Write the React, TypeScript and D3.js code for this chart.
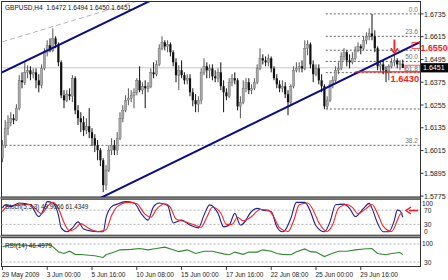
import React from 'react';
import * as d3 from 'd3';

const FONT = '"Liberation Sans", Arial, sans-serif';

const symbol = 'GBPUSD,H4';

const open = [1.5975,1.6043,1.6133,1.6164,1.6185,1.6175,1.6238,1.6385,1.6375,1.6427,1.6438,1.6417,1.6427,1.6385,1.6359,1.6448,1.6533,1.6569,1.6543,1.6606,1.6575,1.6480,1.6306,1.6280,1.6312,1.6301,1.6396,1.6227,1.6185,1.6164,1.6122,1.6143,1.6112,1.6080,1.6043,1.6017,1.5964,1.5833,1.5912,1.6017,1.6043,1.6017,1.6080,1.6185,1.6227,1.6280,1.6291,1.6306,1.6322,1.6385,1.6333,1.6354,1.6343,1.6354,1.6427,1.6417,1.6469,1.6554,1.6585,1.6564,1.6575,1.6533,1.6480,1.6412,1.6438,1.6412,1.6385,1.6396,1.6322,1.6280,1.6259,1.6280,1.6427,1.6459,1.6438,1.6448,1.6406,1.6396,1.6427,1.6354,1.6322,1.6301,1.6375,1.6396,1.6385,1.6248,1.6270,1.6343,1.6375,1.6333,1.6343,1.6375,1.6448,1.6501,1.6490,1.6480,1.6501,1.6448,1.6396,1.6364,1.6343,1.6354,1.6312,1.6270,1.6354,1.6438,1.6448,1.6459,1.6448,1.6554,1.6575,1.6469,1.6417,1.6448,1.6385,1.6354,1.6248,1.6280,1.6364,1.6385,1.6438,1.6448,1.6511,1.6533,1.6490,1.6480,1.6501,1.6543,1.6564,1.6554,1.6596,1.6617,1.6632,1.6617,1.6554,1.6459,1.6469,1.6438,1.6427,1.6459,1.6480,1.6490,1.6469,1.6472];
const close = [1.6043,1.6133,1.6164,1.6185,1.6175,1.6238,1.6385,1.6375,1.6427,1.6438,1.6417,1.6427,1.6385,1.6359,1.6448,1.6533,1.6569,1.6543,1.6606,1.6575,1.6480,1.6306,1.6280,1.6312,1.6301,1.6396,1.6227,1.6185,1.6164,1.6122,1.6143,1.6112,1.6080,1.6043,1.6017,1.5964,1.5833,1.5912,1.6017,1.6043,1.6017,1.6080,1.6185,1.6227,1.6280,1.6291,1.6306,1.6322,1.6385,1.6333,1.6354,1.6343,1.6354,1.6427,1.6417,1.6469,1.6554,1.6585,1.6564,1.6575,1.6533,1.6480,1.6412,1.6438,1.6412,1.6385,1.6396,1.6322,1.6280,1.6259,1.6280,1.6427,1.6459,1.6438,1.6448,1.6406,1.6396,1.6427,1.6354,1.6322,1.6301,1.6375,1.6396,1.6385,1.6248,1.6270,1.6343,1.6375,1.6333,1.6343,1.6375,1.6448,1.6501,1.6490,1.6480,1.6501,1.6448,1.6396,1.6364,1.6343,1.6354,1.6312,1.6270,1.6354,1.6438,1.6448,1.6459,1.6448,1.6554,1.6575,1.6469,1.6417,1.6448,1.6385,1.6354,1.6248,1.6280,1.6364,1.6385,1.6438,1.6448,1.6511,1.6533,1.6490,1.6480,1.6501,1.6543,1.6564,1.6554,1.6596,1.6617,1.6632,1.6617,1.6554,1.6459,1.6469,1.6438,1.6427,1.6459,1.6480,1.6490,1.6469,1.6472,1.6451];
const high = [1.6070,1.6175,1.6201,1.6217,1.6206,1.6259,1.6412,1.6427,1.6480,1.6464,1.6459,1.6448,1.6448,1.6417,1.6469,1.6554,1.6596,1.6606,1.6659,1.6617,1.6585,1.6490,1.6333,1.6333,1.6343,1.6412,1.6406,1.6254,1.6217,1.6196,1.6185,1.6238,1.6133,1.6101,1.6070,1.6028,1.5975,1.5938,1.6043,1.6080,1.6070,1.6112,1.6217,1.6254,1.6306,1.6343,1.6333,1.6343,1.6396,1.6459,1.6375,1.6385,1.6375,1.6448,1.6480,1.6490,1.6575,1.6617,1.6596,1.6596,1.6585,1.6543,1.6501,1.6464,1.6490,1.6427,1.6417,1.6417,1.6343,1.6312,1.6301,1.6448,1.6501,1.6480,1.6469,1.6469,1.6438,1.6448,1.6480,1.6385,1.6343,1.6396,1.6417,1.6427,1.6396,1.6301,1.6385,1.6396,1.6396,1.6364,1.6396,1.6469,1.6554,1.6522,1.6511,1.6522,1.6511,1.6459,1.6417,1.6385,1.6385,1.6375,1.6333,1.6364,1.6459,1.6480,1.6480,1.6490,1.6596,1.6596,1.6585,1.6490,1.6469,1.6469,1.6417,1.6364,1.6301,1.6385,1.6406,1.6459,1.6480,1.6533,1.6554,1.6543,1.6522,1.6533,1.6564,1.6585,1.6575,1.6617,1.6638,1.6659,1.6735,1.6648,1.6564,1.6490,1.6490,1.6459,1.6469,1.6501,1.6517,1.6501,1.6490,1.6494];
const low = [1.5954,1.6028,1.6096,1.6143,1.6154,1.6170,1.6227,1.6343,1.6359,1.6396,1.6385,1.6396,1.6343,1.6322,1.6343,1.6438,1.6511,1.6533,1.6533,1.6554,1.6459,1.6291,1.6238,1.6270,1.6280,1.6270,1.6206,1.6149,1.6112,1.6091,1.6101,1.6080,1.6038,1.6007,1.5964,1.5933,1.5796,1.5807,1.5901,1.5991,1.5991,1.5991,1.6070,1.6164,1.6217,1.6254,1.6270,1.6238,1.6306,1.6322,1.6312,1.6238,1.6322,1.6343,1.6396,1.6406,1.6459,1.6543,1.6543,1.6533,1.6511,1.6459,1.6375,1.6333,1.6396,1.6364,1.6364,1.6301,1.6248,1.6217,1.6217,1.6259,1.6412,1.6396,1.6396,1.6385,1.6375,1.6375,1.6333,1.6217,1.6280,1.6291,1.6354,1.6364,1.6227,1.6185,1.6259,1.6322,1.6312,1.6312,1.6333,1.6364,1.6438,1.6469,1.6459,1.6459,1.6427,1.6385,1.6343,1.6322,1.6322,1.6291,1.6201,1.6248,1.6343,1.6427,1.6427,1.6427,1.6438,1.6517,1.6448,1.6375,1.6406,1.6364,1.6322,1.6233,1.6233,1.6270,1.6343,1.6375,1.6417,1.6438,1.6490,1.6459,1.6448,1.6469,1.6490,1.6533,1.6522,1.6543,1.6575,1.6596,1.6596,1.6533,1.6438,1.6427,1.6417,1.6375,1.6385,1.6448,1.6459,1.6448,1.6438,1.6450];

const priceTicks = [1.6735, 1.6615, 1.6495, 1.6375, 1.6255, 1.6135, 1.6015, 1.5895, 1.5775];
const timeTickBars = [0, 16, 32, 48, 64, 80, 96, 112, 128];
const timeTickLabels = ['29 May 2009', '3 Jun 00:00', '5 Jun 16:00', '10 Jun 08:00', '15 Jun 00:00', '17 Jun 16:00', '22 Jun 08:00', '25 Jun 00:00', '29 Jun 16:00'];

const stochKBars = [0,1,3,6,10,13,15,16,18,20,21,23,25,27,29,32,36,37,39,41,44,47,50,52,54,56,59,61,64,67,70,72,74,77,79,81,83,85,87,88,91,93,96,98,100,101,103,105,108,110,112,115,117,119,122,124,126,129,131,132,134,136,138,140,141,142,143];
const stochK = [76,85,80,90,85,52,76,94,90,56,20,9,20,37,17,11,9,48,80,87,94,90,56,42,80,90,83,34,42,28,20,56,85,61,23,28,61,28,42,56,75,70,66,23,9,14,47,92,92,66,26,9,37,85,87,75,52,75,89,75,33,9,9,42,70,68,49.9];
const stochDBars = [0,2,6,10,14,16,18,20,22,24,26,28,31,34,37,39,41,45,48,51,53,55,58,60,62,65,68,71,73,75,78,80,82,84,86,89,92,95,97,99,102,104,106,109,111,113,116,118,120,123,125,127,130,132,134,136,139,141,142,143];
const stochD = [66,82,85,86,60,80,92,75,35,12,18,32,18,10,15,55,80,92,88,58,50,72,88,78,45,38,30,22,50,78,62,30,30,50,40,52,72,70,50,20,10,40,85,90,70,35,10,30,75,86,78,60,75,86,60,25,10,40,58,61.4];
const stochLevels = [70, 30];
const stochLabelValues = ['49.9066', '61.4349'];

const rsiBars = [0,3,6,11,17,18,20,22,24,26,29,33,36,37,40,42,46,49,52,55,58,61,63,66,69,72,75,79,81,83,86,88,91,93,96,98,100,103,105,108,110,112,115,117,120,123,126,129,132,134,137,139,142,143];
const rsi = [64,68,68,66,68,64,53,49,54,47,46,44,40,46,52,57,58,60,57,60,63,57,53,57,49,54,54,48,46,52,47,52,52,57,54,49,47,46,53,59,53,52,42,47,54,54,57,59,60,49,46,49,51,46.5];
const rsiLevels = [70, 30];
const rsiLabelValue = '46.4979';

const fibHigh = 1.6735;
const fibLow = 1.6234;
const fibStartBar = 115.5;
const fibLevels = [0, 23.6, 38.2, 50, 61.8, 100, 138.2];
const fibLabels = ['0.0', '23.6', '', '50.0', '61.8', '', '38.2'];

const channelUpper: [number, number][] = [[0, 1.6428], [50, 1.6784]];
const channelLower: [number, number][] = [[35, 1.5765], [149, 1.6585]];
const greyTrend: [number, number][] = [[0, 1.6588], [47, 1.6797]];

const resistancePrice = 1.6550;
const supportPrice = 1.6430;
const supportStartBar = 126;
const arrowBar = 140;
const arrowFrom = 1.6600;
const arrowTo = 1.6528;
const stochArrowValue = 69;

export default function App() {
  const n = close.length;
  const x = d3.scaleLinear().domain([0, 143]).range([2.4, 402.8]);
  const y = d3.scaleLinear().domain([1.5775, 1.6735]).range([196.1, 13.9]);
  const ySt = d3.scaleLinear().domain([0, 100]).range([235, 199.5]);
  const yR = d3.scaleLinear().domain([30, 70]).range([262, 244]);
  const L = 1.5, R = 420.5;

  const lineK = d3.line<number>().x((_, i) => x(stochKBars[i])).y(d => ySt(d)).curve(d3.curveMonotoneX);
  const lineD = d3.line<number>().x((_, i) => x(stochDBars[i])).y(d => ySt(d)).curve(d3.curveMonotoneX);
  const lineR = d3.line<number>().x((_, i) => x(rsiBars[i])).y(d => yR(d));
  const seg = d3.line<[number, number]>().x(d => x(d[0])).y(d => y(d[1]));

  const last = n - 1;
  const title = `${symbol}  ${open[last].toFixed(4)} ${high[last].toFixed(4)} ${low[last].toFixed(4)} ${close[last].toFixed(4)}`;
  const axp = x(arrowBar);

  const greyExt: [number, number][] = [
    greyTrend[0],
    [greyTrend[1][0] * 2 - greyTrend[0][0], greyTrend[1][1] * 2 - greyTrend[0][1]],
  ];

  return (
    <svg width={448} height={280} style={{ position: 'absolute', left: 0, top: 0, background: '#fff' }} fontFamily={FONT}>
      <defs>
        <clipPath id="mainClip"><rect x={2} y={2} width={418} height={195} /></clipPath>
        <clipPath id="stClip"><rect x={2} y={200} width={418} height={35} /></clipPath>
        <clipPath id="rsiClip"><rect x={2} y={238} width={418} height={28} /></clipPath>
      </defs>
      <rect x={0} y={0} width={448} height={280} fill="#fff" />

      {/* separators */}
      <rect x={0} y={196.8} width={421} height={2.4} fill="#9a9a9a" />
      <rect x={0} y={235.3} width={421} height={2.4} fill="#9a9a9a" />

      {/* frames */}
      <rect x={L} y={1.5} width={R - L} height={195.5} fill="none" stroke="#333" strokeWidth={1} />
      <rect x={L} y={199.2} width={R - L} height={36} fill="none" stroke="#333" strokeWidth={1} />
      <rect x={L} y={237.7} width={R - L} height={28.8} fill="none" stroke="#333" strokeWidth={1} />

      {/* main panel */}
      <g clipPath="url(#mainClip)">
        <line x1={L} x2={R} y1={y(close[last])} y2={y(close[last])} stroke="#c8c8c8" strokeWidth={1} />
        {fibLevels.map((lv, i) => {
          const p = fibHigh - (fibHigh - fibLow) * lv / 100;
          const x1 = lv > 100 ? L : x(fibStartBar);
          return (
            <g key={'f' + i}>
              <line x1={x1} x2={R - 1} y1={y(p)} y2={y(p)} stroke="#666" strokeWidth={1} strokeDasharray="2,2" />
              {fibLabels[i] && (
                <text x={418} y={y(p) - 2} fontSize={6.6} fill="#777" textAnchor="end">{fibLabels[i]}</text>
              )}
            </g>
          );
        })}
        <path d={seg(greyExt) || ''} stroke="#b4b4b4" strokeWidth={1} strokeDasharray="5,3" fill="none" />

        {close.map((c, i) => {
          const o = open[i];
          const cx = x(i);
          const top = y(Math.max(o, c));
          const bot = y(Math.min(o, c));
          const bull = c >= o;
          return (
            <g key={'c' + i}>
              <line x1={cx} x2={cx} y1={y(high[i])} y2={y(low[i])} stroke={bull ? '#555' : '#111'} strokeWidth={1} />
              <rect x={cx - 1.1} y={top} width={2.2} height={Math.max(1, bot - top)}
                fill={bull ? '#a8a8a8' : '#111'} stroke={bull ? '#666' : 'none'} strokeWidth={0.4} />
            </g>
          );
        })}

        {[channelUpper, channelLower].map((ln, k) => {
          const [a, b] = ln;
          const dx = b[0] - a[0], dp = b[1] - a[1];
          const ext: [number, number][] = [[a[0] - dx, a[1] - dp], [b[0] + dx, b[1] + dp]];
          return <path key={'ch' + k} d={seg(ext) || ''} stroke="#0c0c8a" strokeWidth={2} fill="none" />;
        })}

        <line x1={x(supportStartBar)} x2={R} y1={y(supportPrice)} y2={y(supportPrice)} stroke="#ff1a1a" strokeWidth={1.2} />
        <line x1={axp} x2={axp} y1={y(arrowFrom)} y2={y(arrowTo) - 3} stroke="#ff1a1a" strokeWidth={1.8} />
        <path d={`M${axp - 3.5},${y(arrowTo) - 5} L${axp},${y(arrowTo)} L${axp + 3.5},${y(arrowTo) - 5}`} stroke="#ff1a1a" strokeWidth={1.6} fill="none" />
      </g>

      <rect x={405} y={65.2} width={15} height={6.6} fill="none" stroke="#ff2a2a" strokeWidth={0.8} />
      <rect x={412} y={42.5} width={8} height={6} fill="none" stroke="#ff2a2a" strokeWidth={0.8} />

      <text x={5} y={9.5} fontSize={6.5} fill="#111" style={{ whiteSpace: 'pre' }}>{title}</text>

      <text x={420.5} y={50.5} fontSize={8.9} fontWeight="bold" fill="#ff1a1a">{resistancePrice.toFixed(4)}</text>
      <text x={390.5} y={82} fontSize={9.4} fontWeight="bold" fill="#ff1a1a">{supportPrice.toFixed(4)}</text>

      <line x1={R} x2={R} y1={1} y2={267} stroke="#333" strokeWidth={1} />
      {priceTicks.map((p, i) => (
        <g key={'p' + i}>
          <line x1={R} x2={R + 3} y1={y(p)} y2={y(p)} stroke="#333" />
          <text x={424} y={y(p) + 2.6} fontSize={7.1} fill="#222">{p.toFixed(4)}</text>
        </g>
      ))}
      <rect x={421} y={y(close[last]) - 4.6} width={27} height={9.2} fill="#000" />
      <text x={423} y={y(close[last]) + 2.6} fontSize={7.1} fill="#fff">{close[last].toFixed(4)}</text>

      {stochLevels.map((lv) => (
        <line key={'sl' + lv} x1={L} x2={R} y1={ySt(lv)} y2={ySt(lv)} stroke="#b0b0b0" strokeDasharray="2,2" />
      ))}
      <g clipPath="url(#stClip)">
        <path d={lineK(stochK) || ''} fill="none" stroke="#1c1c9c" strokeWidth={1.1} />
        <path d={lineD(stochD) || ''} fill="none" stroke="#ff2020" strokeWidth={1.1} />
      </g>
      <text x={5} y={208.5} fontSize={6.3} fill="#222">{`Stoch(5,3,3) ${stochLabelValues[0]} ${stochLabelValues[1]}`}</text>
      {[100, 70, 30, 0].map(v => (
        <text key={'st' + v} x={v === 100 ? 422 : 424} y={Math.min(234, Math.max(205.5, ySt(v) + 2.5))} fontSize={6.6} fill="#222">{v}</text>
      ))}
      <line x1={418} x2={409} y1={ySt(stochArrowValue)} y2={ySt(stochArrowValue)} stroke="#ff1a1a" strokeWidth={1.6} />
      <path d={`M${411},${ySt(stochArrowValue) - 3.5} L${406},${ySt(stochArrowValue)} L${411},${ySt(stochArrowValue) + 3.5}`} stroke="#ff1a1a" strokeWidth={1.5} fill="none" />

      {rsiLevels.map((lv) => (
        <line key={'rl' + lv} x1={L} x2={R} y1={yR(lv)} y2={yR(lv)} stroke="#b0b0b0" strokeDasharray="2,2" />
      ))}
      <g clipPath="url(#rsiClip)">
        <path d={lineR(rsi) || ''} fill="none" stroke="#2e8b2e" strokeWidth={1.1} />
      </g>
      <text x={5} y={248} fontSize={6.4} fill="#222">{`RSI(14) ${rsiLabelValue}`}</text>
      <text x={422} y={246} fontSize={6.6} fill="#222">100</text>
      <text x={424} y={264.5} fontSize={6.6} fill="#222">30</text>

      {timeTickBars.map((b, i) => (
        <g key={'t' + i}>
          <line x1={x(b)} x2={x(b)} y1={266.5} y2={270} stroke="#333" />
          <text x={x(b) - 0.5} y={277} fontSize={6.5} fill="#222">{timeTickLabels[i]}</text>
        </g>
      ))}
    </svg>
  );
}
